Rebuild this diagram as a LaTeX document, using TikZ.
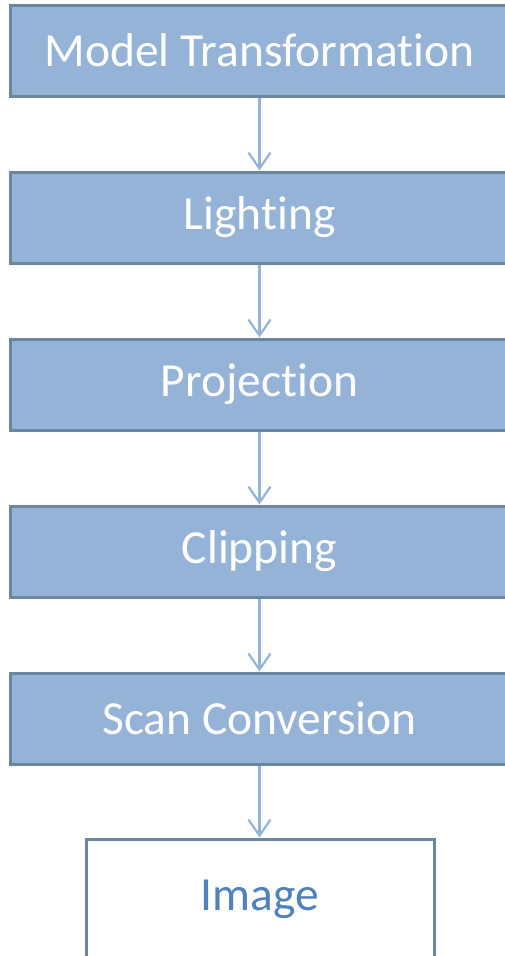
\documentclass[tikz,border=0pt]{standalone}
\usepackage{fontspec}
\setmainfont[Ligatures=NoCommon]{Carlito}
\usetikzlibrary{arrows.meta}
\definecolor{stagefill}{RGB}{149,179,215}
\definecolor{stageline}{RGB}{107,135,160}
\definecolor{flowline}{RGB}{149,179,215}
\definecolor{outtext}{RGB}{79,129,189}
\tikzset{
  stagebox/.style={draw=stageline, line width=3pt, fill=stagefill,
    minimum width=499pt, minimum height=91pt, inner sep=0pt,
    text=white, font=\fontsize{47.5}{52}\selectfont},
  resultbox/.style={draw=stageline, line width=3pt, fill=white,
    minimum width=348pt, minimum height=120pt, inner sep=0pt,
    text=outtext, font=\fontsize{47.5}{52}\selectfont},
  flow/.style={draw=flowline, line width=2.2pt,
    -{Straight Barb[length=16pt,width=22pt,line width=2.2pt]}}
}
\begin{document}
\begin{tikzpicture}[x=1pt,y=-1pt]
  \useasboundingbox (0,0) rectangle (504,956);
  \node[stagebox] (model)    at (259.5,50.5)  {Model Transformation};
  \node[stagebox] (light)    at (259.5,217.5) {Lighting};
  \node[stagebox] (proj)     at (259.5,384.5) {Projection};
  \node[stagebox] (clip)     at (259.5,551.5) {Clipping};
  \node[stagebox] (scan)     at (259.5,718.5) {Scan Conversion};
  \node[resultbox] (image)   at (260,899)     {Image};
  \draw[flow] (model.south) -- (light.north);
  \draw[flow] (light.south) -- (proj.north);
  \draw[flow] (proj.south)  -- (clip.north);
  \draw[flow] (clip.south)  -- (scan.north);
  \draw[flow] (scan.south)  -- (scan.south |- image.north);
\end{tikzpicture}
\end{document}
